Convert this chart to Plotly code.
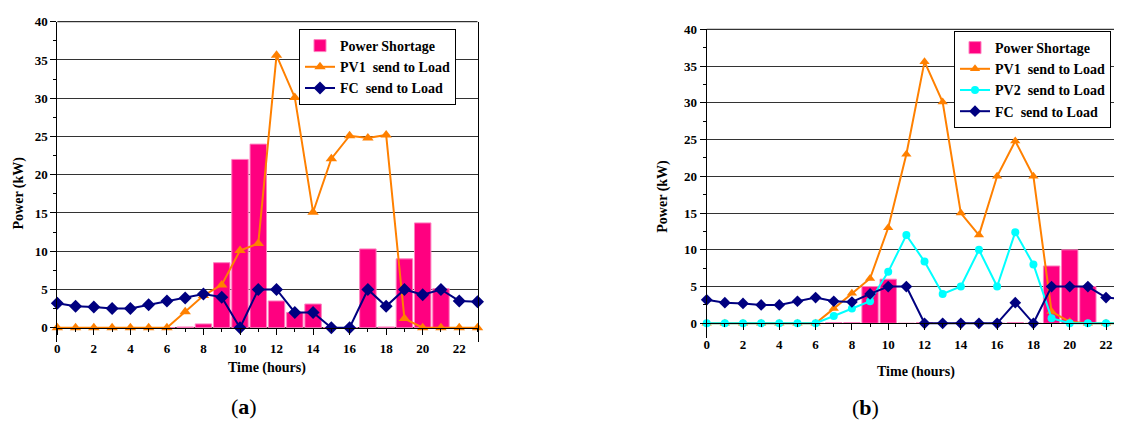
import plotly.graph_objects as go

hours = list(range(24))
tick_vals = list(range(0, 24, 2))
tick_text = [str(v) for v in tick_vals]
y_ticks = list(range(0, 45, 5))

# (a)
a_shortage = [0, 0, 0, 0, 0, 0, 0, 0.1, 0.5, 8.5, 22.0, 24.0, 3.5, 2.0, 3.1, 0, 0, 10.3, 0.1, 9.0, 13.7, 5.1, 0, 0]
a_pv1 = [0, 0, 0, 0, 0, 0, 0, 2.1, 4.2, 5.6, 10.1, 11.0, 35.6, 30.1, 15.1, 22.1, 25.1, 24.8, 25.2, 1.2, 0, 0, 0, 0]
a_fc = [3.2, 2.8, 2.7, 2.5, 2.5, 3.0, 3.5, 3.9, 4.4, 4.0, 0, 5.0, 5.0, 2.0, 2.0, 0, 0, 5.0, 2.8, 5.0, 4.3, 5.0, 3.5, 3.4]

# (b)
b_shortage = [0, 0, 0, 0, 0, 0, 0, 0.1, 0.1, 5.0, 6.0, 0, 0.1, 0, 0, 0, 0, 0.1, 0, 7.8, 10.0, 5.0, 0, 0]
b_pv1 = [0, 0, 0, 0, 0, 0, 0, 2.0, 4.1, 6.1, 13.0, 23.0, 35.6, 30.1, 15.0, 12.0, 20.0, 24.8, 20.0, 1.6, 0.2, 0, 0, 0]
b_pv2 = [0, 0, 0, 0, 0, 0, 0, 1.0, 2.0, 3.0, 7.0, 12.0, 8.4, 4.0, 5.0, 10.0, 5.0, 12.4, 8.0, 0.7, 0, 0, 0, 0]
b_fc = [3.2, 2.8, 2.7, 2.5, 2.5, 3.0, 3.5, 3.0, 2.9, 4.0, 5.0, 5.0, 0, 0, 0, 0, 0, 2.8, 0, 5.0, 5.0, 5.0, 3.5, 3.3]

names = ["Power Shortage", "PV1\u00a0 send to Load", "PV2\u00a0 send to Load", "FC\u00a0 send to Load"]

PINK = "#FF0080"
ORANGE = "#FF8000"
CYAN = "#00FFFF"
NAVY = "#000080"
SERIF = "Liberation Serif"

W, H = 1122, 421
OFF = 8  # page body margin offset


def px(xr):
    return (xr - OFF) / W


def py(yr):
    return 1 - (yr - OFF) / H


fig = go.Figure()

# ---- (a)
fig.add_trace(go.Bar(x=hours, y=a_shortage, name=names[0], width=0.9,
                     marker=dict(color=PINK, line=dict(color="#FF7FBF", width=1)),
                     xaxis="x", yaxis="y", legend="legend"))
fig.add_trace(go.Scatter(x=hours, y=a_pv1, name=names[1], mode="lines+markers",
                         line=dict(color=ORANGE, width=2),
                         marker=dict(symbol="triangle-up", size=10, color=ORANGE),
                         cliponaxis=False, xaxis="x", yaxis="y", legend="legend"))
fig.add_trace(go.Scatter(x=hours, y=a_fc, name=names[3], mode="lines+markers",
                         line=dict(color=NAVY, width=2),
                         marker=dict(symbol="diamond", size=10, color=NAVY),
                         cliponaxis=False, xaxis="x", yaxis="y", legend="legend"))

# ---- (b)
fig.add_trace(go.Bar(x=hours, y=b_shortage, name=names[0], width=0.9,
                     marker=dict(color=PINK, line=dict(color="#FF7FBF", width=1)),
                     xaxis="x2", yaxis="y2", legend="legend2"))
fig.add_trace(go.Scatter(x=hours, y=b_pv1, name=names[1], mode="lines+markers",
                         line=dict(color=ORANGE, width=2),
                         marker=dict(symbol="triangle-up", size=9, color=ORANGE),
                         cliponaxis=False, xaxis="x2", yaxis="y2", legend="legend2"))
fig.add_trace(go.Scatter(x=hours, y=b_pv2, name=names[2], mode="lines+markers",
                         line=dict(color=CYAN, width=2),
                         marker=dict(symbol="circle", size=8, color=CYAN),
                         cliponaxis=False, xaxis="x2", yaxis="y2", legend="legend2"))
fig.add_trace(go.Scatter(x=hours, y=b_fc, name=names[3], mode="lines+markers",
                         line=dict(color=NAVY, width=2),
                         marker=dict(symbol="diamond", size=9, color=NAVY),
                         cliponaxis=False, xaxis="x2", yaxis="y2", legend="legend2"))

tickfont = dict(family=SERIF, size=13, color="black", weight="bold")


def xaxis_cfg(domain, rng, pos):
    return dict(domain=domain, range=rng, anchor="free", position=pos,
                tickvals=tick_vals, ticktext=tick_text, ticks="outside", ticklen=6,
                tickwidth=1, tickcolor="black", showline=True, linecolor="black",
                linewidth=1, showgrid=False, zeroline=False, tickfont=tickfont,
                ticklabelstandoff=3,
                minor=dict(dtick=1, tick0=0, ticks="outside", ticklen=3,
                           tickcolor="black", showgrid=False))


def yaxis_cfg(domain, rng, anchor, mirror):
    return dict(domain=domain, range=rng, anchor=anchor, tickvals=y_ticks,
                ticks="outside", ticklen=6, tickwidth=1, tickcolor="black",
                showline=True, linecolor="black", linewidth=1, mirror=mirror,
                showgrid=True, gridcolor="#333333", gridwidth=1, zeroline=False,
                tickfont=tickfont,
                minor=dict(dtick=2.5, tick0=0, ticks="outside", ticklen=3,
                           tickcolor="black", showgrid=False))


legend_font = dict(family=SERIF, size=14, color="black", weight="bold")

fig.update_layout(
    width=W, height=H,
    margin=dict(l=0, r=0, t=0, b=0, autoexpand=False),
    paper_bgcolor="white", plot_bgcolor="white",
    barmode="overlay",
    xaxis=xaxis_cfg([px(57.3), px(477.5)], [0, 23], py(327.7)),
    yaxis=yaxis_cfg([py(341.5), py(21.7)], [-1.8, 40], "x", True),
    xaxis2=xaxis_cfg([px(706.7), px(1122)], [0, 22.88], py(323.3)),
    yaxis2=yaxis_cfg([py(338.0), py(29.3)], [-2.0, 40], "x2", False),
    legend=dict(x=px(299), y=py(29), xanchor="left", yanchor="top",
                bgcolor="white", bordercolor="black", borderwidth=1, font=legend_font),
    legend2=dict(x=px(954), y=py(31), xanchor="left", yanchor="top",
                 bgcolor="white", bordercolor="black", borderwidth=1, font=legend_font),
    showlegend=True,
)

# top borders
fig.add_shape(type="line", xref="x domain", yref="y domain", x0=0, x1=1, y0=1, y1=1,
              line=dict(color="black", width=1))
fig.add_shape(type="line", xref="x2 domain", yref="y2 domain", x0=0, x1=1, y0=1, y1=1,
              line=dict(color="black", width=1))

title_font = dict(family=SERIF, size=14, color="black", weight="bold")
ann = [
    dict(text="Time (hours)", x=px(267), y=py(368), font=title_font),
    dict(text="Time (hours)", x=px(916), y=py(372), font=title_font),
    dict(text="Power (kW)", x=px(18), y=py(193.5), font=title_font, textangle=-90),
    dict(text="Power (kW)", x=px(662.7), y=py(196), font=title_font, textangle=-90),
    dict(text="(<b>a</b>)", x=px(244), y=py(406), font=dict(family=SERIF, size=22, color="black")),
    dict(text="(<b>b</b>)", x=px(866), y=py(407), font=dict(family=SERIF, size=22, color="black")),
]
for a in ann:
    fig.add_annotation(xref="paper", yref="paper", xanchor="center", yanchor="middle",
                       showarrow=False, **a)

fig.write_html("out.html")
